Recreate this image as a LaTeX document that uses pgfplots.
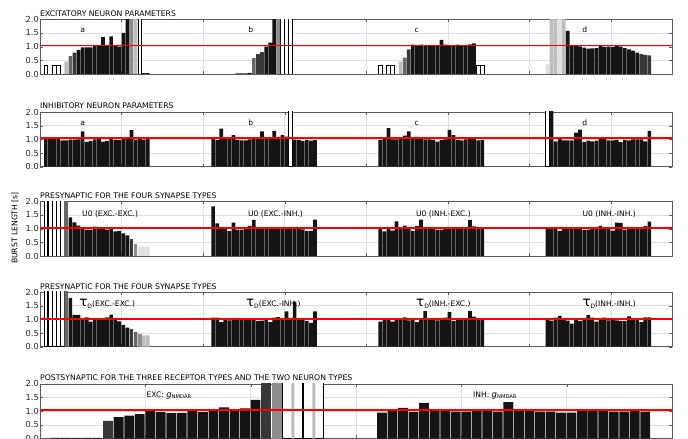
\documentclass[border=0pt]{standalone}
\usepackage{fontspec}
\setmainfont{DejaVu Sans}
\usepackage{pgfplots}
\pgfplotsset{compat=1.18}
\definecolor{cK}{HTML}{141414}
\definecolor{cD}{HTML}{383838}
\definecolor{cM}{HTML}{666666}
\definecolor{cG}{HTML}{8C8C8C}
\definecolor{cL}{HTML}{BDBDBD}
\definecolor{cP}{HTML}{E0E0E0}
\definecolor{cR}{HTML}{FF0000}
\newcommand{\tf}{\fontsize{7.7}{9}\selectfont}
\newcommand{\lf}{\fontsize{7.6}{9}\selectfont}
\newcommand{\taulab}[1]{{\fontsize{13.5}{14}\selectfont τ}\raisebox{-2pt}{\fontsize{6}{7}\selectfont D}#1}
\newcommand{\glab}[1]{#1 {\fontsize{8.5}{9}\selectfont\itshape g}\raisebox{-1.5pt}{\fontsize{5.2}{6}\selectfont NMDAR}}
\tikzset{
  lab/.style={font=\lf, inner sep=0pt, anchor=base},
  labw/.style={font=\lf, inner sep=0pt, anchor=base west},
}
\pgfplotsset{
  panel/.style={
    scale only axis, width=632pt, height=54.7pt,
    xmin=0, xmax=155, ymin=0, ymax=2,
    xtick={0,20,...,140}, xticklabels={},
    ytick={0,0.5,1,1.5,2}, yticklabels={0.0,0.5,1.0,1.5,2.0},
    grid=major, grid style={gray!25, line width=0.4pt},
    axis line style={black!65}, tick style={black!65}, major tick length=3pt,
    yticklabel style={font=\fontsize{8.3}{9}\selectfont, inner sep=1pt, text=black!85},
    anchor=south west,
  },
  bb/.style={ybar, bar width=0.9, bar shift=0.45, draw=none},
  bK/.style={bb, fill=cK},
  bD/.style={bb, fill=cD},
  bM/.style={bb, fill=cM},
  bG/.style={bb, fill=cG},
  bL/.style={bb, fill=cL},
  bP/.style={bb, fill=cP},
  bW/.style={ybar, bar width=0.9, bar shift=0.45, fill=white, draw=black, line width=0.5pt},
}
\begin{document}
\begin{tikzpicture}
% ---------------- Panel 1: excitatory neuron parameters
\begin{axis}[panel, name=p1, at={(40pt,365pt)}]
\addplot[bW] coordinates {(1,0.33)(3,0.33)(4,0.33)(24,2.5)(59,2.5)(60,2.5)(61,2.5)(83,0.33)(85,0.33)(86,0.33)(107,0.33)(108,0.33)};
\addplot[bP] coordinates {(124,0.35)(127,2.5)};
\addplot[bL] coordinates {(6,0.45)(23,2.5)(88,0.45)(125,2.5)(126,2.5)(128,2.5)};
\addplot[bG] coordinates {(22,2.5)(58,2.5)};
\addplot[bM] coordinates {(7,0.65)(52,0.58)(89,0.6)};
\addplot[bD] coordinates {(8,0.78)(53,0.73)(54,0.8)(90,0.9)(147,0.73)(148,0.7)(149,0.68)};
\addplot[bK] coordinates {(9,0.88)(10,0.97)(11,0.97)(12,0.97)(13,1.02)(14,1.03)(15,1.35)(16,1.03)(17,1.38)(18,1.03)(19,1.0)(20,1.5)(21,2.5)(25,0.03)(26,0.03)
(48,0.02)(49,0.02)(50,0.02)(51,0.04)(55,1.0)(56,1.15)(57,2.5)
(91,1.07)(92,1.05)(93,1.07)(94,1.05)(95,1.05)(96,1.05)(97,1.05)(98,1.25)(99,1.07)(100,1.05)(101,1.05)(102,1.07)(103,1.05)(104,1.05)(105,1.08)(106,1.12)
(129,1.58)(130,1.06)(131,1.04)(132,1.01)(133,0.96)(134,0.93)(135,0.94)(136,0.95)(137,1.02)(138,0.99)(139,1.0)(140,0.99)(141,1.02)(142,1.0)(143,0.95)(144,0.9)(145,0.85)(146,0.78)};
\node[lab] at (axis cs:10.5,1.5) {a};
\node[lab] at (axis cs:51.7,1.5) {b};
\node[lab] at (axis cs:92.4,1.5) {c};
\node[lab] at (axis cs:133.6,1.5) {d};
\end{axis}
% ---------------- Panel 2: inhibitory neuron parameters
\begin{axis}[panel, name=p2, at={(40pt,272.3pt)}]
\addplot[bW] coordinates {(61,2.5)(124,2.5)};
\addplot[bK] coordinates {(1,1.04)(2,1.04)(3,1.04)(4,1.08)(5,0.96)(6,0.96)(7,0.99)(8,0.99)(9,1.0)(10,1.29)(11,0.91)(12,0.94)(13,1.0)(14,1.03)(15,0.92)(16,0.94)(17,1.03)(18,0.98)(19,0.97)(20,1.04)(21,1.04)(22,1.34)(23,0.99)(24,1.03)(25,0.99)(26,1.03)
(42,1.04)(43,0.97)(44,1.39)(45,1.04)(46,1.06)(47,1.15)(48,0.98)(49,0.96)(50,0.96)(51,1.0)(52,1.04)(53,1.04)(54,1.29)(55,1.05)(56,1.07)(57,1.31)(58,1.06)(59,1.15)(60,1.1)(62,0.99)(63,0.97)(64,0.94)(65,0.97)(66,0.95)(67,0.97)
(83,0.98)(84,1.03)(85,1.41)(86,1.0)(87,1.0)(88,1.08)(89,1.14)(90,1.29)(91,1.03)(92,1.09)(93,1.03)(94,1.0)(95,1.0)(96,0.98)(97,0.92)(98,0.98)(99,1.0)(100,1.35)(101,1.15)(102,0.98)(103,0.96)(104,1.0)(105,1.05)(106,1.04)(107,0.96)(108,0.97)
(125,2.5)(126,0.93)(127,1.02)(128,0.96)(129,0.96)(130,0.96)(131,1.25)(132,1.36)(133,0.91)(134,0.95)(135,0.93)(136,0.95)(137,1.03)(138,1.03)(139,0.96)(140,0.96)(141,0.98)(142,0.9)(143,0.98)(144,0.96)(145,1.0)(146,1.0)(147,1.0)(148,0.93)(149,1.31)};
\node[lab] at (axis cs:10.5,1.5) {a};
\node[lab] at (axis cs:51.7,1.5) {b};
\node[lab] at (axis cs:92.4,1.5) {c};
\node[lab] at (axis cs:133.6,1.5) {d};
\end{axis}
% ---------------- Panel 3: presynaptic U0
\begin{axis}[panel, name=p3, at={(40pt,183pt)}]
\addplot[bW] coordinates {(1,2.5)(2,2.5)(3,2.5)(4,2.5)(5,2.5)};
\addplot[bM] coordinates {(6,2.5)};
\addplot[bD] coordinates {(22,0.61)};
\addplot[bG] coordinates {(23,0.44)};
\addplot[bP] coordinates {(24,0.35)(25,0.35)(26,0.35)};
\addplot[bK] coordinates {(7,1.41)(8,1.23)(9,1.11)(10,1.04)(11,0.96)(12,0.96)(13,1.07)(14,1.02)(15,1.02)(16,0.96)(17,0.98)(18,0.9)(19,0.92)(20,0.83)(21,0.75)
(42,1.81)(43,1.19)(44,1.02)(45,0.99)(46,0.91)(47,1.22)(48,0.96)(49,0.96)(50,1.02)(51,1.1)(52,1.32)(53,0.98)(54,1.02)(55,1.02)(56,1.02)(57,0.99)(58,1.02)(59,1.02)(60,1.02)(61,0.99)(62,1.02)(63,1.02)(64,0.97)(65,0.92)(66,0.92)(67,1.33)
(83,0.99)(84,0.9)(85,1.02)(86,0.93)(87,1.27)(88,1.04)(89,1.11)(90,1.04)(91,0.92)(92,1.09)(93,1.33)(94,1.02)(95,1.02)(96,1.0)(97,0.96)(98,0.96)(99,0.99)(100,1.02)(101,1.02)(102,1.02)(103,1.02)(104,1.02)(105,1.32)(106,1.08)(107,1.05)(108,0.99)
(124,0.98)(125,1.02)(126,1.04)(127,0.92)(128,0.99)(129,1.03)(130,0.98)(131,1.04)(132,0.99)(133,0.95)(134,0.96)(135,0.98)(136,1.03)(137,1.1)(138,1.03)(139,1.02)(140,0.93)(141,1.22)(142,1.21)(143,0.96)(144,1.02)(145,1.02)(146,0.99)(147,0.99)(148,1.09)(149,1.26)};
\node[labw] at (axis cs:10.3,1.44) {U0 (EXC.-EXC.)};
\node[labw] at (axis cs:51,1.44) {U0 (EXC.-INH.)};
\node[labw] at (axis cs:92.2,1.44) {U0 (INH.-EXC.)};
\node[labw] at (axis cs:133,1.44) {U0 (INH.-INH.)};
\end{axis}
% ---------------- Panel 4: presynaptic tau_D
\begin{axis}[panel, name=p4, at={(40pt,92.3pt)}]
\addplot[bW] coordinates {(1,2.5)(2,2.5)(3,2.5)(4,2.5)(5,2.5)};
\addplot[bM] coordinates {(6,2.5)(23,0.54)};
\addplot[bD] coordinates {(22,0.63)};
\addplot[bG] coordinates {(24,0.46)};
\addplot[bL] coordinates {(25,0.41)(26,0.41)};
\addplot[bK] coordinates {(7,1.78)(8,1.16)(9,1.16)(10,1.02)(11,1.07)(12,0.92)(13,1.04)(14,0.98)(15,1.04)(16,1.07)(17,1.17)(18,0.98)(19,0.93)(20,0.8)(21,0.7)
(42,1.06)(43,1.06)(44,0.9)(45,0.98)(46,0.96)(47,0.99)(48,1.05)(49,1.0)(50,1.02)(51,1.02)(52,1.02)(53,0.94)(54,0.95)(55,1.02)(56,0.9)(57,1.06)(58,1.08)(59,0.98)(60,1.29)(61,1.05)(62,1.65)(63,1.02)(64,0.98)(65,0.94)(66,0.87)(67,1.29)
(83,0.92)(84,1.01)(85,0.98)(86,0.92)(87,1.02)(88,0.98)(89,1.07)(90,0.96)(91,1.01)(92,0.9)(93,1.02)(94,1.3)(95,1.01)(96,1.02)(97,0.96)(98,1.05)(99,1.06)(100,1.26)(101,0.94)(102,1.02)(103,1.02)(104,1.02)(105,1.31)(106,1.1)(107,1.02)(108,0.99)
(124,1.0)(125,0.95)(126,1.06)(127,1.13)(128,1.01)(129,0.95)(130,0.84)(131,1.02)(132,0.94)(133,1.02)(134,1.16)(135,1.06)(136,0.92)(137,1.02)(138,1.06)(139,0.96)(140,1.02)(141,0.96)(142,0.94)(143,0.94)(144,1.11)(145,1.0)(146,1.02)(147,0.9)(148,1.07)(149,1.07)};
\node[labw] at (axis cs:9.6,1.47) {\taulab{(EXC.-EXC.)}};
\node[labw] at (axis cs:50.5,1.47) {\taulab{(EXC.-INH.)}};
\node[labw] at (axis cs:92.2,1.47) {\taulab{(INH.-EXC.)}};
\node[labw] at (axis cs:133,1.47) {\taulab{(INH.-INH.)}};
\end{axis}
% ---------------- Panel 5: postsynaptic
\begin{axis}[panel, name=p5, at={(40pt,0.5pt)}, xmax=60, xtick={0,10,...,60}]
\addplot[bW, bar width=1.93, bar shift=0.965] coordinates {(23,2.5)(25,2.5)};
\addplot[bL, bar width=0.28, bar shift=0] coordinates {(24,2.5)(26,2.5)};
\addplot[bG, bar width=0.93, bar shift=0.465] coordinates {(22,2.5)};
\addplot[bD, bar width=0.93, bar shift=0.465] coordinates {(6,0.64)(21,2.5)};
\addplot[bK, bar width=0.93, bar shift=0.465] coordinates {(1,0.02)(2,0.02)(3,0.02)(4,0.02)(5,0.02)(7,0.78)(8,0.84)(9,0.89)(10,1.0)(11,0.96)(12,0.94)(13,0.94)(14,1.04)(15,0.96)(16,1.04)(17,1.14)(18,1.05)(19,1.1)(20,1.41)
(32,0.95)(33,1.02)(34,1.12)(35,0.97)(36,1.3)(37,1.03)(38,1.03)(39,0.98)(40,0.98)(41,1.0)(42,1.07)(43,0.98)(44,1.33)(45,1.03)(46,1.03)(47,0.98)(48,0.98)(49,0.95)(50,0.95)(51,1.03)(52,1.03)(53,1.03)(54,0.98)(55,0.98)(56,1.03)(57,0.98)};
\node[labw] at (axis cs:10.1,1.5) {\glab{EXC:}};
\node[labw] at (axis cs:41.1,1.5) {\glab{INH:}};
\end{axis}
% ---------------- reference lines (red bands), drawn last
\fill[cR] (40pt,392.6pt) rectangle (672pt,394.2pt);
\fill[cR] (40pt,299.9pt) rectangle (672pt,301.5pt);
\fill[cR] (40pt,210.1pt) rectangle (672pt,211.7pt);
\fill[cR] (40pt,119.4pt) rectangle (672pt,121.0pt);
\fill[cR] (40pt,28.4pt) rectangle (672pt,30.0pt);
% ---------------- titles
\node[anchor=base west, inner sep=0pt, font=\tf] at ([yshift=2.8pt]p1.north west) {EXCITATORY NEURON PARAMETERS};
\node[anchor=base west, inner sep=0pt, font=\tf] at ([yshift=3pt]p2.north west) {INHIBITORY NEURON PARAMETERS};
\node[anchor=base west, inner sep=0pt, font=\tf] at ([yshift=2.5pt]p3.north west) {PRESYNAPTIC FOR THE FOUR SYNAPSE TYPES};
\node[anchor=base west, inner sep=0pt, font=\tf] at ([yshift=2.5pt]p4.north west) {PRESYNAPTIC FOR THE FOUR SYNAPSE TYPES};
\node[anchor=base west, inner sep=0pt, font=\tf] at ([yshift=3pt]p5.north west) {POSTSYNAPTIC FOR THE THREE RECEPTOR TYPES AND THE TWO NEURON TYPES};
\node[rotate=90, inner sep=0pt, font=\tf] at (15pt,211pt) {BURST LENGTH [s]};
\pgfresetboundingbox
\path[use as bounding box] (0,0) rectangle (688pt,439pt);
\end{tikzpicture}
\end{document}
